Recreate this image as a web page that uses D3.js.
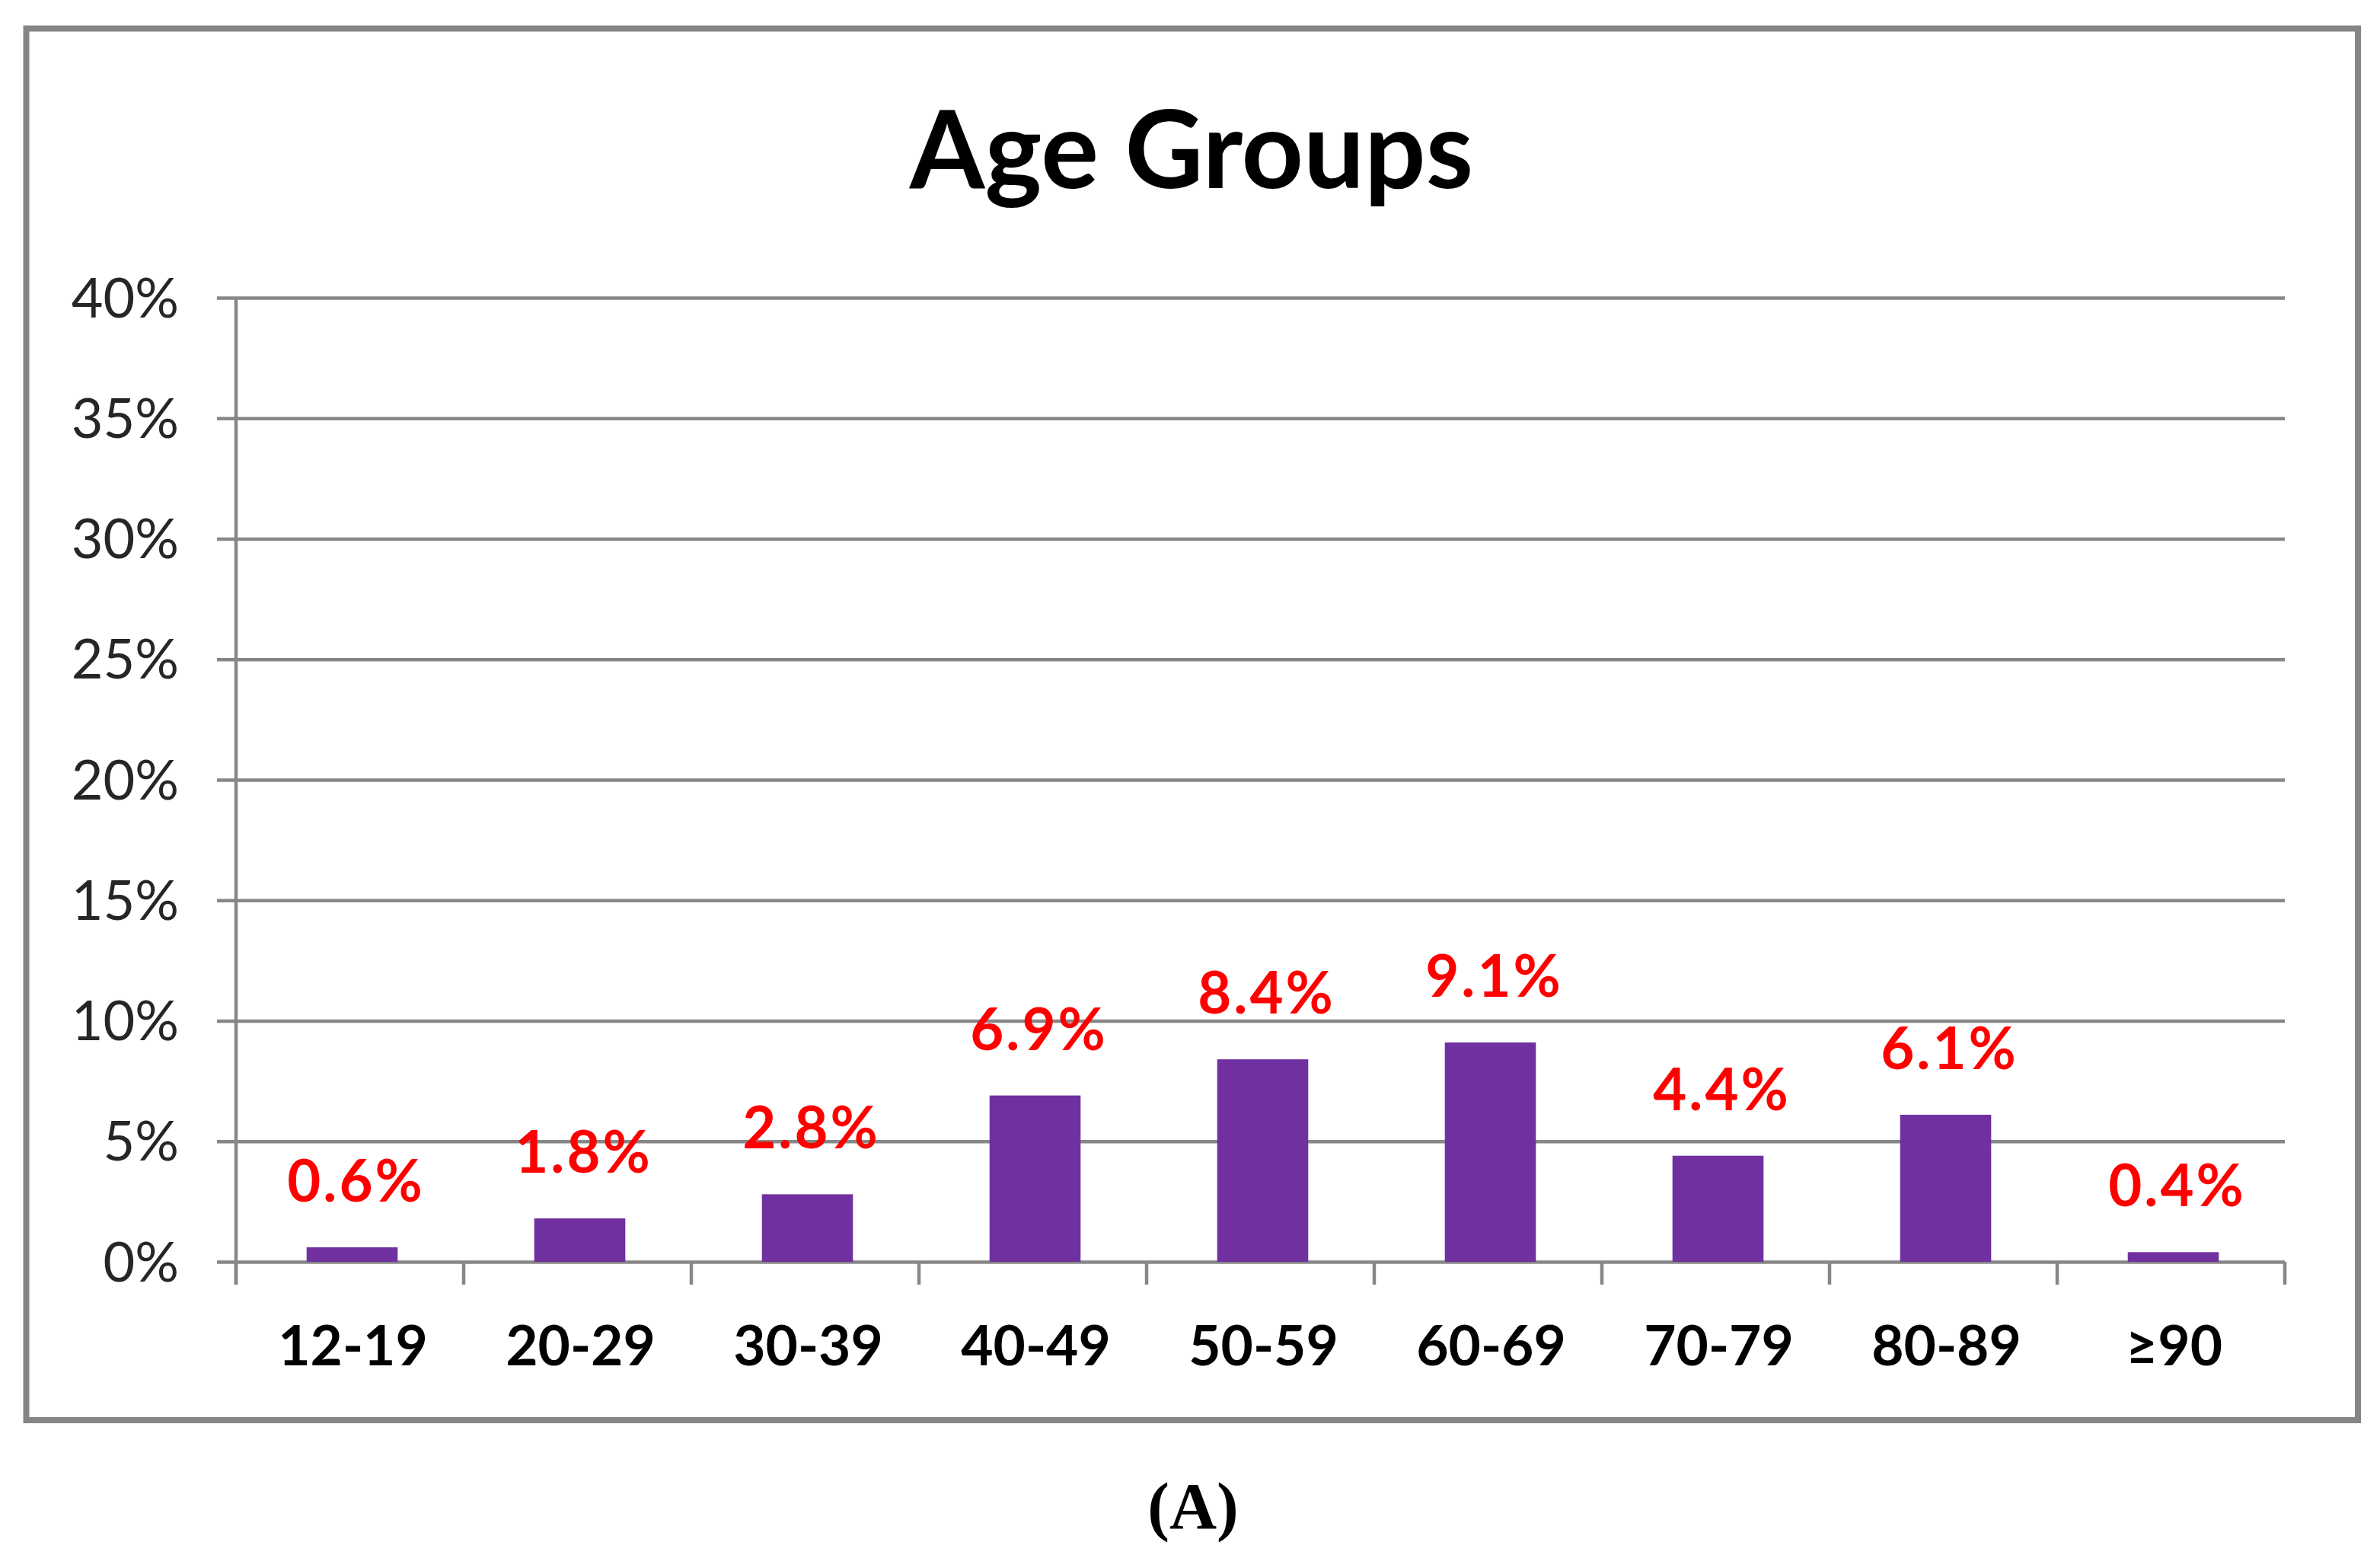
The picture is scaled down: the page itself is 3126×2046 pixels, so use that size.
<!DOCTYPE html>
<html lang="en">
<head>
    <meta charset="UTF-8" />
    <title>Age Groups</title>
    <script src="https://d3js.org/d3.v7.min.js"></script>
    <style>
        html, body {
            margin: 0;
            padding: 0;
            background: #fff;
        }
        svg {
            display: block;
        }
    </style>
</head>
<body>
    <svg id="chart" width="3126" height="2046"></svg>

    <script>
        // chart data
        const ageGroups = ["12-19", "20-29", "30-39", "40-49", "50-59", "60-69", "70-79", "80-89", "\u226590"];
        const shares = [0.006, 0.018, 0.028, 0.069, 0.084, 0.091, 0.044, 0.061, 0.004];
        const shareLabels = ["0.6%", "1.8%", "2.8%", "6.9%", "8.4%", "9.1%", "4.4%", "6.1%", "0.4%"];
        const yTicks = [0, 0.05, 0.10, 0.15, 0.20, 0.25, 0.30, 0.35, 0.40];
        const chartTitle = "Age Groups";
        const caption = "(A)";

        const svg = d3.select("#chart");
        const gridColor = "#878787";

        // outer frame
        svg.append("rect")
            .attr("x", 34.5)
            .attr("y", 37.5)
            .attr("width", 3097 - 34.5)
            .attr("height", 1865 - 37.5)
            .attr("fill", "#fff")
            .attr("stroke", "#858585")
            .attr("stroke-width", 8);

        const margin = { left: 310, top: 391, right: 3001, bottom: 1657 };
        const width = margin.right - margin.left;
        const height = margin.bottom - margin.top;

        const g = svg.append("g")
            .attr("transform", `translate(${margin.left},${margin.top})`);

        const x = d3.scaleBand()
            .domain(ageGroups)
            .range([0, width])
            .paddingInner(0.6)
            .paddingOuter(0.3);

        const y = d3.scaleLinear()
            .domain([0, 0.40])
            .range([height, 0]);

        // y axis + gridlines
        const yAxis = g.append("g")
            .call(d3.axisLeft(y).tickValues(yTicks).tickFormat(d3.format(".0%")).tickSize(0));

        yAxis.select(".domain").remove();
        yAxis.selectAll(".tick line")
            .attr("x1", -25)
            .attr("x2", width)
            .attr("stroke", gridColor)
            .attr("stroke-width", 4.5);
        yAxis.selectAll(".tick text")
            .attr("x", -75)
            .attr("dy", 0)
            .attr("y", 25)
            .attr("font-family", "Lato, 'Open Sans', sans-serif")
            .attr("font-size", 72)
            .attr("fill", "#262626");

        // vertical axis line
        g.append("line")
            .attr("x1", 0).attr("x2", 0)
            .attr("y1", 0).attr("y2", height + 30)
            .attr("stroke", gridColor)
            .attr("stroke-width", 4.5);

        // category boundary ticks
        const boundaries = d3.range(ageGroups.length + 1).map(i => i * x.step());
        g.selectAll(".cat-tick")
            .data(boundaries)
            .enter()
            .append("line")
            .attr("class", "cat-tick")
            .attr("x1", d => d).attr("x2", d => d)
            .attr("y1", height).attr("y2", height + 30)
            .attr("stroke", gridColor)
            .attr("stroke-width", 4.5);

        // x axis labels
        const xAxis = g.append("g")
            .attr("transform", `translate(0,${height})`)
            .call(d3.axisBottom(x).tickSize(0));

        xAxis.select(".domain").remove();
        xAxis.selectAll(".tick text")
            .attr("x", 4)
            .attr("y", 136)
            .attr("dy", 0)
            .attr("font-family", "Lato, 'Open Sans', sans-serif")
            .attr("font-weight", "bold")
            .attr("font-size", 73)
            .attr("fill", "#000");

        // bars
        g.selectAll(".bar")
            .data(shares)
            .enter()
            .append("rect")
            .attr("class", "bar")
            .attr("x", (d, i) => x(ageGroups[i]) + 3)
            .attr("y", d => y(d))
            .attr("width", x.bandwidth())
            .attr("height", d => height - y(d))
            .attr("fill", "#7030A0");

        // value labels
        g.selectAll(".value")
            .data(shares)
            .enter()
            .append("text")
            .attr("class", "value")
            .attr("x", (d, i) => x(ageGroups[i]) + x.bandwidth() / 2 + 8)
            .attr("y", d => y(d) - 60)
            .attr("text-anchor", "middle")
            .attr("font-family", "Lato, 'Open Sans', sans-serif")
            .attr("font-weight", "bold")
            .attr("font-size", 76)
            .attr("letter-spacing", 3)
            .attr("fill", "#FF0000")
            .text((d, i) => shareLabels[i]);

        // title
        svg.append("text")
            .attr("x", 1565)
            .attr("y", 247)
            .attr("text-anchor", "middle")
            .attr("font-family", "Lato, 'Open Sans', sans-serif")
            .attr("font-weight", "bold")
            .attr("font-size", 142)
            .attr("fill", "#000")
            .text(chartTitle);

        // caption
        svg.append("text")
            .attr("x", 1567)
            .attr("y", 2007)
            .attr("text-anchor", "middle")
            .attr("font-family", "'Liberation Serif', 'Times New Roman', serif")
            .attr("font-weight", "bold")
            .attr("font-size", 86)
            .attr("fill", "#000")
            .text(caption);
    </script>
</body>
</html>
